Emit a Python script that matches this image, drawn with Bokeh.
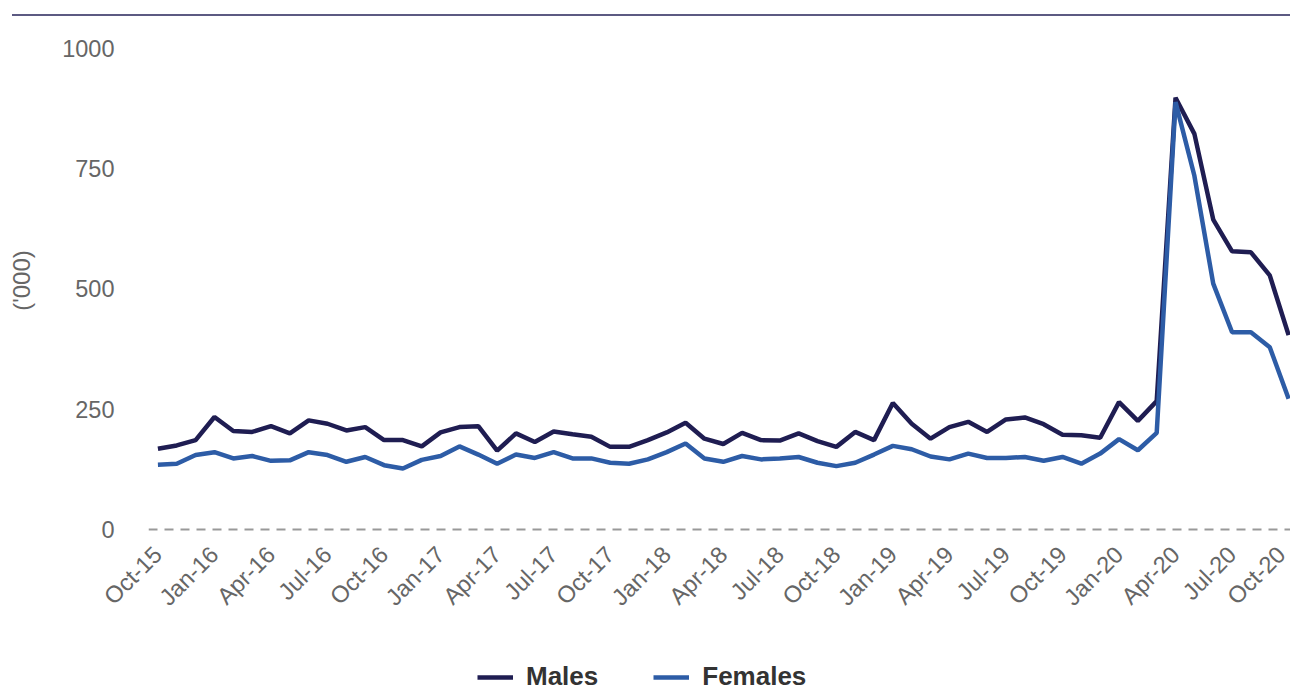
from math import pi
from bokeh.plotting import figure
from bokeh.models import FixedTicker, Legend, LegendItem, Div, Range1d, ColumnDataSource
from bokeh.layouts import column
from bokeh.embed import file_html
from bokeh.resources import INLINE

# Monthly values, Oct-15 .. Oct-20 ('000)
males = [168, 175, 186, 234, 205, 203, 215, 200, 227, 220, 206, 213, 186, 186, 173,
         202, 213, 215, 164, 200, 182, 204, 198, 193, 172, 172, 186, 202, 222, 189,
         178, 201, 186, 185, 200, 184, 172, 203, 186, 263, 220, 189, 213, 224, 203,
         229, 233, 219, 197, 196, 191, 265, 226, 267, 897, 822, 644, 578, 576, 528, 404]
females = [135, 137, 155, 161, 148, 153, 143, 144, 161, 155, 141, 151, 134, 127, 145,
           153, 173, 156, 137, 156, 149, 161, 148, 148, 139, 137, 146, 161, 179, 148,
           141, 153, 146, 148, 151, 139, 132, 139, 156, 174, 167, 152, 146, 158, 149,
           149, 151, 143, 151, 137, 158, 188, 165, 201, 888, 735, 511, 410, 410, 379, 272]
tick_labels = ["Oct-15", "Jan-16", "Apr-16", "Jul-16", "Oct-16", "Jan-17", "Apr-17",
               "Jul-17", "Oct-17", "Jan-18", "Apr-18", "Jul-18", "Oct-18", "Jan-19",
               "Apr-19", "Jul-19", "Oct-19", "Jan-20", "Apr-20", "Jul-20", "Oct-20"]
y_ticks = [0, 250, 500, 750, 1000]

idx = list(range(len(males)))
tick_pos = list(range(0, len(males), 3))
src = ColumnDataSource(dict(x=idx, m=males, f=females))

FONT = "Liberation Sans"
GREY = "#666666"
MALE_C = "#1f1d52"
FEMALE_C = "#2d5ca6"

p = figure(width=1290, height=620, output_backend="svg", toolbar_location=None,
           x_range=Range1d(-0.5, 60.1), y_range=Range1d(-10, 1045),
           min_border_left=148, min_border_right=0, min_border_top=10, min_border_bottom=102,
           margin=0)
p.outline_line_color = None

p.line("x", "m", source=src, line_color=MALE_C, line_width=4.5)
p.line("x", "f", source=src, line_color=FEMALE_C, line_width=4.5)

xa = p.xaxis[0]
xa.ticker = FixedTicker(ticks=tick_pos)
xa.major_label_overrides = {t: l for t, l in zip(tick_pos, tick_labels)}
xa.major_label_orientation = pi / 4
xa.major_label_text_font = FONT
xa.major_label_text_font_size = "23.5px"
xa.major_label_text_color = GREY
xa.major_label_standoff = 10
xa.axis_line_color = None
xa.major_tick_line_color = None
xa.minor_tick_line_color = None

ya = p.yaxis[0]
ya.ticker = FixedTicker(ticks=y_ticks)
ya.major_label_text_font = FONT
ya.major_label_text_font_size = "23.5px"
ya.major_label_text_color = GREY
ya.major_label_standoff = 28
ya.axis_line_color = None
ya.major_tick_line_color = None
ya.minor_tick_line_color = None
ya.axis_label = "('000)"
ya.axis_label_text_font = FONT
ya.axis_label_text_font_size = "24px"
ya.axis_label_text_font_style = "normal"
ya.axis_label_text_color = GREY
ya.axis_label_standoff = 24

p.xgrid.grid_line_color = None
p.ygrid.ticker = FixedTicker(ticks=[0])
p.ygrid.grid_line_color = "#999999"
p.ygrid.grid_line_width = 2
p.ygrid.grid_line_dash = "9 7"

# legend row: a frameless strip carrying the legend (its lines lie outside its ranges)
lg = figure(width=1290, height=56, output_backend="svg", toolbar_location=None,
            x_axis_type=None, y_axis_type=None,
            x_range=Range1d(-0.5, 60), y_range=Range1d(-3000, -2000),
            min_border_left=0, min_border_right=0, min_border_top=0, min_border_bottom=0,
            margin=0)
lg.outline_line_color = None
lm = lg.line("x", "m", source=src, line_color=MALE_C, line_width=4.5)
lf = lg.line("x", "f", source=src, line_color=FEMALE_C, line_width=4.5)
legend = Legend(items=[LegendItem(label="Males", renderers=[lm]),
                       LegendItem(label="Females", renderers=[lf])],
                orientation="horizontal", location=(329, 0),
                glyph_width=36, glyph_height=22, label_height=22,
                label_standoff=13, spacing=55, padding=0, margin=0,
                border_line_color=None, background_fill_alpha=0,
                label_text_font=FONT, label_text_font_size="26px",
                label_text_font_style="bold", label_text_color="#333333")
lg.add_layout(legend, "center")

top_rule = Div(text='<div style="height:2px;background:#5c5a82;margin-top:14px;margin-left:12px;width:1278px"></div>',
               width=1290, height=16, margin=0)

layout = column(top_rule, p, lg, spacing=0, margin=0)
open("out.html", "w").write(file_html(layout, INLINE))
